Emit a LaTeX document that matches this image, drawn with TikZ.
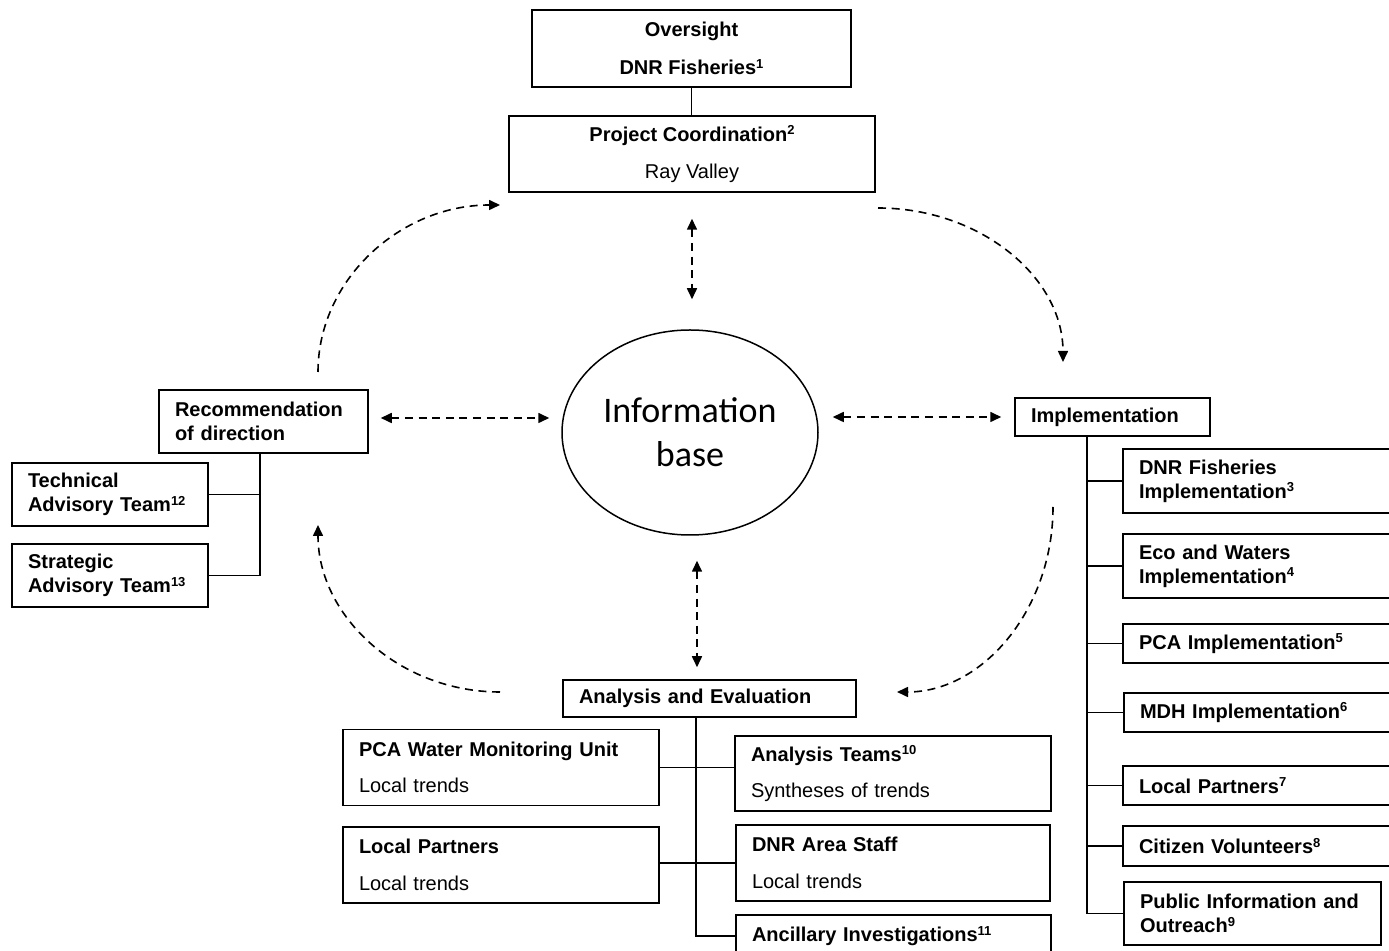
\documentclass[tikz,border=0pt]{standalone}
\usepackage{fontspec}
\setmainfont{Liberation Sans}
\newfontfamily\calfont{Carlito}
\usetikzlibrary{shapes.geometric,arrows.meta,calc}
\newcommand\sups[1]{\raisebox{0.33em}{\fontsize{6.5}{6}\selectfont #1}}
\begin{document}
\begin{tikzpicture}[x=0.5pt,y=-0.5pt,
  bx/.style={draw, line width=0.75pt, inner sep=0pt, font=\fontsize{10}{12}\selectfont\bfseries},
  lb/.style={bx, align=left, inner xsep=8pt},
  cb/.style={bx, align=center},
  link/.style={line width=0.75pt},
  tip/.tip={Triangle[length=5.5pt,width=5pt]},
  darr/.style={line width=0.8pt, dash pattern=on 4pt off 2.8pt, -tip},
  ddarr/.style={line width=0.8pt, dash pattern=on 4pt off 2.8pt, tip-tip}]
\useasboundingbox (0,0) rectangle (1389,951);
\clip (0,0) rectangle (1389,951);
% top
\node[cb, minimum width=159.5pt, minimum height=38.5pt] (ov) at (691.5,48.5) {Oversight\\[7pt]DNR Fisheries\sups{1}};
\node[cb, minimum width=183pt, minimum height=38pt] (pc) at (692,154) {Project Coordination\sups{2}\\[6.5pt]\mdseries Ray Valley};
% centre
\node[ellipse, draw, line width=0.75pt, minimum width=128pt, minimum height=102.5pt, inner sep=0pt, align=center, font=\calfont\fontsize{18}{22}\selectfont] (ib) at (690,432.5) {Information\\base};
% left
\node[lb, text width=88.5pt, minimum height=31.5pt] (rec) at (263.5,421.5) {Recommendation\\of direction};
\node[lb, text width=82pt, minimum height=31.5pt] (tat) at (110,494.5) {Technical\\Advisory Team\sups{12}};
\node[lb, text width=82pt, minimum height=31.5pt] (sat) at (110,575.5) {Strategic\\Advisory Team\sups{13}};
% right
\node[lb, text width=81.5pt, minimum height=19pt] (impl) at (1112.5,417) {Implementation};
\node[lb, text width=134pt, minimum height=32pt] (dnrf) at (1273,481) {DNR Fisheries\\Implementation\sups{3}};
\node[lb, text width=134pt, minimum height=32pt] (eco) at (1273,566) {Eco and Waters\\Implementation\sups{4}};
\node[lb, text width=134pt, minimum height=19.5pt] (pcai) at (1273,643.5) {PCA Implementation\sups{5}};
\node[lb, text width=134pt, minimum height=19.5pt] (mdh) at (1274,712.5) {MDH Implementation\sups{6}};
\node[lb, text width=134pt, minimum height=19.5pt] (lp7) at (1273,785.5) {Local Partners\sups{7}};
\node[lb, text width=134pt, minimum height=20pt] (cit) at (1273,846) {Citizen Volunteers\sups{8}};
\node[lb, text width=112.5pt, minimum height=31.5pt] (pub) at (1252.5,913.5) {Public Information and\\Outreach\sups{9}};
% bottom
\node[lb, text width=130.5pt, minimum height=18.5pt] (ana) at (709.5,698.5) {Analysis and Evaluation};
\node[lb, text width=142pt, minimum height=38pt] (pcaw) at (501,767.5) {PCA Water Monitoring Unit\\[6pt]\mdseries Local trends};
\node[lb, text width=142pt, minimum height=37.5pt] (teams) at (893,773.5) {Analysis Teams\sups{10}\\[6pt]\mdseries Syntheses of trends};
\node[lb, text width=142pt, minimum height=38pt] (lpb) at (501,865) {Local Partners\\[6.5pt]\mdseries Local trends};
\node[lb, text width=141pt, minimum height=38pt] (dnra) at (893,863) {DNR Area Staff\\[6.5pt]\mdseries Local trends};
\node[lb, text width=141.5pt, minimum height=21pt] (anc) at (893.5,936) {Ancillary Investigations\sups{11}};
% solid links
\draw[link] (ov.south) -- (ov.south |- pc.north);
\draw[link] ([xshift=-1.75pt]rec.south) |- (tat.east);
\draw[link] ([xshift=-1.75pt]rec.south) |- (sat.east);
\foreach \n in {dnrf,eco,pcai,mdh,lp7,cit,pub}
  \draw[link] ([xshift=-12.75pt]impl.south) |- (\n.west);
\draw[link] ([xshift=-6.75pt]ana.south) |- (anc.west);
\draw[link] (pcaw.east) -- (pcaw.east -| teams.west);
\draw[link] (dnra.west) -- (dnra.west -| lpb.east);
% dashed double arrows
\draw[ddarr] ([yshift=-13pt]pc.south) -- ([xshift=1pt,yshift=15pt]ib.north);
\draw[ddarr] ([xshift=3.5pt,yshift=-12.5pt]ib.south) -- ([xshift=-6.25pt,yshift=6pt]ana.north);
\coordinate (l1) at ([xshift=6pt,yshift=1.75pt]rec.east);
\draw[ddarr, shorten >=6pt] (l1) -- (l1 -| ib.west);
\draw[ddarr, shorten <=7pt, shorten >=6.5pt] (ib.east |- impl.west) -- (impl.west);
% curved cycle arrows
\coordinate (a1) at (318,372); \coordinate (a2) at (500,205);
\coordinate (b1) at (878,208); \coordinate (b2) at (1063,362);
\coordinate (c1) at (1053,507); \coordinate (c2) at (897,692);
\coordinate (d1) at (500,692); \coordinate (d2) at (318,525);
\draw[darr] (a1) .. controls (318,280) and (400,205) .. (a2);
\draw[darr] (b1) .. controls (980,208) and (1063,277) .. (b2);
\draw[darr] (c1) .. controls (1053,609) and (983,692) .. (c2);
\draw[darr] (d1) .. controls (400,692) and (318,617) .. (d2);
\end{tikzpicture}
\end{document}
